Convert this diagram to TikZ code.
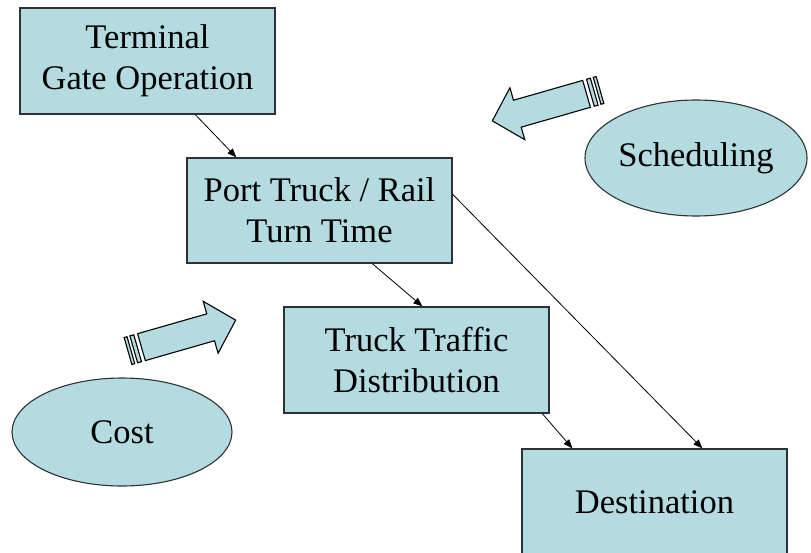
\documentclass[tikz,border=0pt]{standalone}
\usepackage{fontspec}
\setmainfont{Liberation Serif}
\usetikzlibrary{arrows.meta,shapes.geometric}
\definecolor{boxfill}{RGB}{180,220,224}
\definecolor{edgegray}{RGB}{45,50,55}
\newcommand{\stripedarrow}[3]{%
  \begin{scope}[shift={(#1,#2)},rotate=#3]
    \draw[barrow] (0,-14) rectangle (3,14);
    \draw[barrow] (6,-14) rectangle (10,14);
    \draw[barrow] (14,-14) -- (86,-14) -- (86,-27) -- (112,0) -- (86,27) -- (86,14) -- (14,14) -- cycle;
  \end{scope}}
\begin{document}
\begin{tikzpicture}[x=1pt,y=-1pt,
  box/.style={draw=edgegray, line width=1.3pt, fill=boxfill, inner sep=0pt, align=center,
    font=\fontsize{34.5}{41}\selectfont},
  oval/.style={ellipse, draw=edgegray, line width=1.1pt, fill=boxfill, inner sep=0pt,
    font=\fontsize{34.5}{41}\selectfont},
  conn/.style={draw=black, line width=0.8pt, -{Triangle[length=9pt,width=7pt]}},
  barrow/.style={draw=black, line width=1.1pt, fill=boxfill, line join=miter}]
  \clip (0,0) rectangle (811,552);
  \fill[white] (0,0) rectangle (811,552);

  \node[box, minimum width=255pt, minimum height=106pt] (term) at (147.5,61) {Terminal\\Gate Operation};
  \node[box, minimum width=265pt, minimum height=105pt] (port) at (319.5,210.5) {Port Truck / Rail\\Turn Time};
  \node[box, minimum width=265pt, minimum height=106pt] (truck) at (416.5,360) {Truck Traffic\\Distribution};
  \node[box, minimum width=265pt, minimum height=106pt] (dest) at (654.5,502) {Destination};

  \node[oval, minimum width=222pt, minimum height=116pt] (sched) at (696,158) {Scheduling};
  \node[oval, minimum width=220pt, minimum height=108pt] (cost) at (122,432) {Cost};

  \stripedarrow{128}{351}{16}
  \stripedarrow{600}{90}{196}

  \draw[conn] ([xshift=176pt]term.south west) -- ([xshift=50pt]port.north west);
  \draw[conn] ([xshift=186pt]port.south west) -- ([xshift=139pt]truck.north west);
  \draw[conn] ([yshift=-37pt]port.north east) -- ([xshift=181pt]dest.north west);
  \draw[conn] ([xshift=259pt]truck.south west) -- ([xshift=51pt]dest.north west);
\end{tikzpicture}
\end{document}
